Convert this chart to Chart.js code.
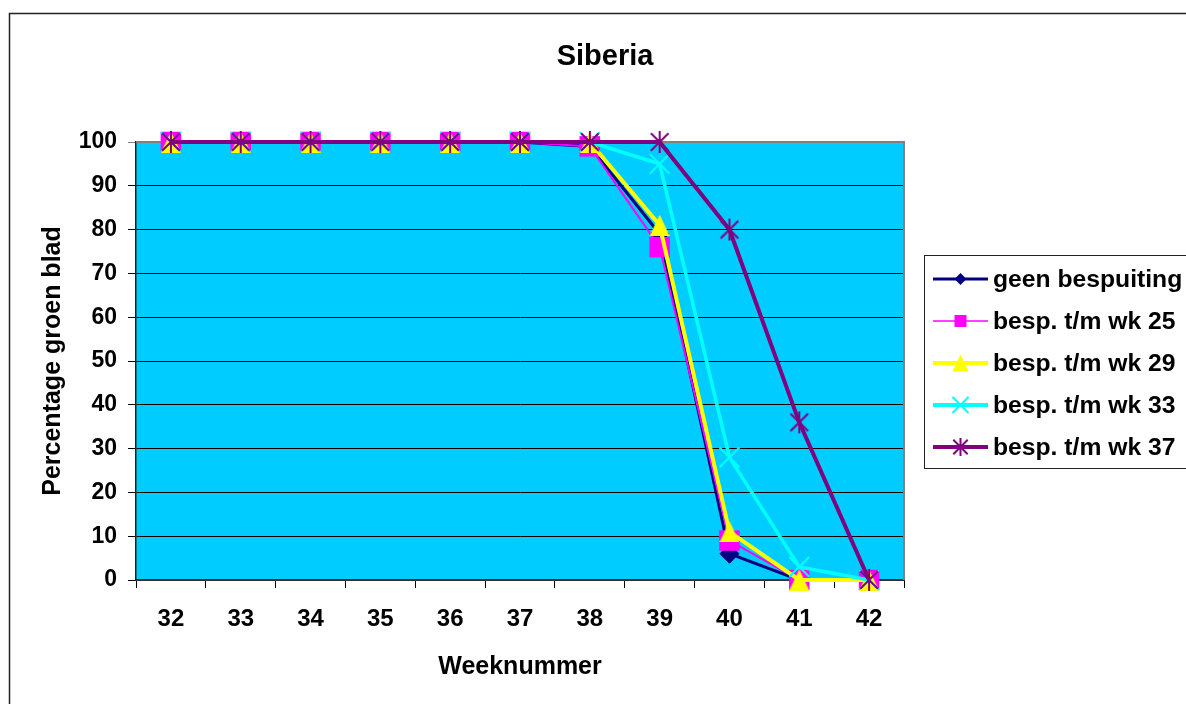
<!DOCTYPE html>
<html>
<head>
<meta charset="utf-8">
<script src="https://cdn.jsdelivr.net/npm/chart.js@4"></script>
<style>
  html, body { margin: 0; padding: 0; background: #fff; }
  #wrap { width: 1186px; height: 704px; position: relative; }
</style>
</head>
<body>
<div id="wrap"><canvas id="c" width="1186" height="704"></canvas></div>
<script>
// ---- data ----
const weeks = ['32', '33', '34', '35', '36', '37', '38', '39', '40', '41', '42'];
const geenBespuiting = [100, 100, 100, 100, 100, 100, 99, 79, 6, 0, 0];
const wk25 = [100, 100, 100, 100, 100, 100, 99, 76, 9, 0, 0];
const wk29 = [100, 100, 100, 100, 100, 100, 100, 81, 11, 0, 0];
const wk33 = [100, 100, 100, 100, 100, 100, 100, 95, 28, 3, 0];
const wk37 = [100, 100, 100, 100, 100, 100, 100, 100, 80, 36, 0];
const seriesLabels = ['geen bespuiting', 'besp. t/m wk 25', 'besp. t/m wk 29', 'besp. t/m wk 33', 'besp. t/m wk 37'];
const yTicks = [0, 10, 20, 30, 40, 50, 60, 70, 80, 90, 100];

const FONT = '"Liberation Sans", Arial, Helvetica, sans-serif';

// asterisk marker (vertical bar + X)
function makeAsterisk(color, size, lw) {
  const c = document.createElement('canvas');
  c.width = size; c.height = size;
  const g = c.getContext('2d');
  const m = size / 2, r = size / 2 - 1;
  g.strokeStyle = color; g.lineWidth = lw; g.lineCap = 'butt';
  g.beginPath();
  g.moveTo(m, m - r); g.lineTo(m, m + r);
  const d = r * 0.8;
  g.moveTo(m - d, m - d); g.lineTo(m + d, m + d);
  g.moveTo(m - d, m + d); g.lineTo(m + d, m - d);
  g.stroke();
  return c;
}
// box-centred triangle marker
function makeTriangle(color, w, h) {
  const c = document.createElement('canvas');
  c.width = w; c.height = h;
  const g = c.getContext('2d');
  g.fillStyle = color;
  g.beginPath();
  g.moveTo(w / 2, 0); g.lineTo(w, h); g.lineTo(0, h); g.closePath();
  g.fill();
  return c;
}
const starChart = makeAsterisk('#800080', 24, 2);
const triChart = makeTriangle('#FFFF00', 20, 21);

function drawMarker(ctx, kind, x, y, s, color) {
  ctx.save();
  ctx.fillStyle = color; ctx.strokeStyle = color;
  ctx.beginPath();
  if (kind === 'diamond') {
    ctx.moveTo(x - s, y); ctx.lineTo(x, y - s); ctx.lineTo(x + s, y); ctx.lineTo(x, y + s); ctx.closePath(); ctx.fill();
  } else if (kind === 'square') {
    ctx.rect(x - s, y - s, 2 * s, 2 * s); ctx.fill();
  } else if (kind === 'triangle') {
    ctx.moveTo(x, y - s); ctx.lineTo(x + s * 0.95, y + s); ctx.lineTo(x - s * 0.95, y + s); ctx.closePath(); ctx.fill();
  } else if (kind === 'x') {
    ctx.lineWidth = 2;
    ctx.moveTo(x - s, y - s); ctx.lineTo(x + s, y + s);
    ctx.moveTo(x - s, y + s); ctx.lineTo(x + s, y - s); ctx.stroke();
  } else if (kind === 'star') {
    ctx.lineWidth = 2;
    ctx.moveTo(x, y - s); ctx.lineTo(x, y + s);
    const d = s * 0.8;
    ctx.moveTo(x - d, y - d); ctx.lineTo(x + d, y + d);
    ctx.moveTo(x - d, y + d); ctx.lineTo(x + d, y - d); ctx.stroke();
  }
  ctx.restore();
}

const decorPlugin = {
  id: 'decor',
  beforeDraw(chart) {
    const ctx = chart.ctx, a = chart.chartArea;
    ctx.save();
    ctx.fillStyle = '#fff';
    ctx.fillRect(0, 0, chart.width, chart.height);
    // outer chart border
    ctx.strokeStyle = '#222'; ctx.lineWidth = 1.5;
    ctx.strokeRect(9.5, 13.5, chart.width + 20, chart.height + 20);
    // plot background
    ctx.fillStyle = '#00CCFF';
    ctx.fillRect(a.left, a.top, a.right - a.left, a.bottom - a.top);
    // title
    ctx.fillStyle = '#000';
    ctx.font = 'bold 29px ' + FONT;
    ctx.textAlign = 'center'; ctx.textBaseline = 'middle';
    ctx.fillText('Siberia', 605, 57);
    ctx.restore();
  },
  beforeDatasetsDraw(chart) {
    const ctx = chart.ctx, a = chart.chartArea;
    ctx.save();
    ctx.strokeStyle = '#808080'; ctx.lineWidth = 2;
    ctx.beginPath();
    ctx.moveTo(a.left, a.top); ctx.lineTo(a.right, a.top); ctx.lineTo(a.right, a.bottom);
    ctx.stroke();
    ctx.restore();
  },
  afterDraw(chart) {
    const ctx = chart.ctx;
    ctx.save();
    ctx.strokeStyle = '#222'; ctx.lineWidth = 1;
    ctx.strokeRect(924.5, 255.5, 300, 213);
    const kinds = ['diamond', 'square', 'triangle', 'x', 'star'];
    const sizes = [6, 6, 8.5, 8, 9];
    const lws = [3, 1.5, 4, 4, 4];
    chart.data.datasets.forEach((ds, i) => {
      const y = 279 + i * 42;
      ctx.strokeStyle = ds.borderColor; ctx.lineWidth = lws[i];
      ctx.beginPath(); ctx.moveTo(933, y); ctx.lineTo(988, y); ctx.stroke();
      drawMarker(ctx, kinds[i], 960.5, y, sizes[i], ds.borderColor);
      ctx.fillStyle = '#000';
      ctx.font = 'bold 24.7px ' + FONT;
      ctx.textAlign = 'left'; ctx.textBaseline = 'middle';
      ctx.fillText(ds.label, 993, y + 1);
    });
    ctx.restore();
  }
};

const dsCommon = { clip: false, tension: 0, fill: false };

new Chart(document.getElementById('c'), {
  type: 'line',
  data: {
    labels: weeks,
    datasets: [
      Object.assign({}, dsCommon, { label: seriesLabels[0], data: geenBespuiting, borderColor: '#000080', backgroundColor: '#000080',
        borderWidth: 3, pointStyle: 'rectRot', pointRadius: 9.5, pointBorderWidth: 1, pointBackgroundColor: '#000080', pointBorderColor: '#000080', order: 5 }),
      Object.assign({}, dsCommon, { label: seriesLabels[1], data: wk25, borderColor: '#FF00FF', backgroundColor: '#FF00FF',
        borderWidth: 2, pointStyle: 'rect', pointRadius: 14.5, pointBorderWidth: 0, pointBackgroundColor: '#FF00FF', pointBorderColor: '#FF00FF', order: 4 }),
      Object.assign({}, dsCommon, { label: seriesLabels[2], data: wk29, borderColor: '#FFFF00', backgroundColor: '#FFFF00',
        borderWidth: 4, pointStyle: triChart, pointRadius: 11, pointBorderWidth: 0, pointBackgroundColor: '#FFFF00', pointBorderColor: '#FFFF00', order: 3 }),
      Object.assign({}, dsCommon, { label: seriesLabels[3], data: wk33, borderColor: '#00FFFF', backgroundColor: '#00FFFF',
        borderWidth: 3.5, pointStyle: 'crossRot', pointRadius: 14, pointBorderWidth: 2, pointBackgroundColor: '#00FFFF', pointBorderColor: '#00FFFF', order: 2 }),
      Object.assign({}, dsCommon, { label: seriesLabels[4], data: wk37, borderColor: '#800080', backgroundColor: '#800080',
        borderWidth: 4, pointStyle: starChart, pointRadius: 12, pointBorderWidth: 2, pointBackgroundColor: '#800080', pointBorderColor: '#800080', order: 1 })
    ]
  },
  options: {
    responsive: false,
    animation: false,
    events: [],
    layout: { padding: { left: 0, top: 142, right: 282, bottom: 0 } },
    plugins: { legend: { display: false }, title: { display: false }, tooltip: { enabled: false } },
    scales: {
      x: {
        type: 'category',
        offset: true,
        afterFit(s) { s.height = 124; },
        grid: { display: true, offset: true, drawOnChartArea: false, drawTicks: true, tickLength: 8, color: '#000', lineWidth: 1 },
        border: { display: true, color: '#303030', width: 2 },
        ticks: { color: '#000', font: { family: FONT, size: 24, weight: 'bold' }, padding: 17, maxRotation: 0, autoSkip: false },
        title: { display: true, text: 'Weeknummer', color: '#000', font: { family: FONT, size: 25, weight: 'bold' }, padding: { top: 0, bottom: 22 } }
      },
      y: {
        min: 0, max: 100,
        afterFit(s) { s.width = 136; },
        afterBuildTicks(s) { s.ticks = yTicks.map(v => ({ value: v })); },
        grid: { display: true, drawOnChartArea: true, drawTicks: true, tickLength: 8,
          color: (c) => (c.tick && c.tick.value === 100 ? '#808080' : '#000'), lineWidth: 1 },
        border: { display: true, color: '#202020', width: 1.5 },
        ticks: { color: '#000', font: { family: FONT, size: 23, weight: 'bold' }, padding: 11, stepSize: 10 },
        title: { display: true, text: 'Percentage groen blad', color: '#000', font: { family: FONT, size: 25, weight: 'bold' }, padding: { top: 38, bottom: 0 } }
      }
    }
  },
  plugins: [decorPlugin]
});
</script>
</body>
</html>
